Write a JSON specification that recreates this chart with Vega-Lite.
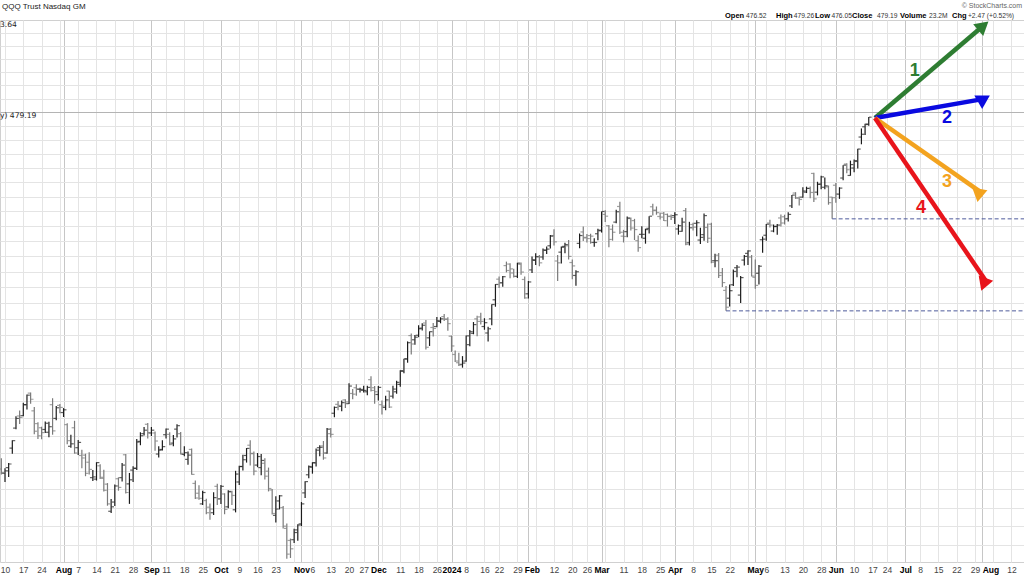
{
  "$schema": "https://vega.github.io/schema/vega-lite/v6.json",
  "width": 1024,
  "height": 542,
  "autosize": {"type": "none"},
  "padding": {"left": 0, "top": 20, "right": 0, "bottom": 14},
  "background": "white",
  "config": {"view": {"stroke": "#d0d0d0"}, "font": "Liberation Sans"},
  "datasets": {
    "bars": [
      {"d":"2023-07-07","i":-1,"o":366.6,"h":369.6,"l":365.1,"c":365.6},
      {"d":"2023-07-10","i":0,"o":365.4,"h":366.8,"l":363.0,"c":366.1},
      {"d":"2023-07-11","i":1,"o":367.0,"h":368.3,"l":364.4,"c":368.0},
      {"d":"2023-07-12","i":2,"o":372.5,"h":374.7,"l":370.9,"c":374.6},
      {"d":"2023-07-13","i":3,"o":378.2,"h":381.6,"l":377.9,"c":381.0},
      {"d":"2023-07-14","i":4,"o":381.7,"h":383.3,"l":379.4,"c":381.3},
      {"d":"2023-07-17","i":5,"o":381.8,"h":385.6,"l":381.6,"c":385.0},
      {"d":"2023-07-18","i":6,"o":385.0,"h":388.0,"l":383.6,"c":387.8},
      {"d":"2023-07-19","i":7,"o":388.4,"h":388.6,"l":385.3,"c":386.6},
      {"d":"2023-07-20","i":8,"o":383.2,"h":384.3,"l":376.4,"c":377.3},
      {"d":"2023-07-21","i":9,"o":379.5,"h":379.9,"l":375.1,"c":376.0},
      {"d":"2023-07-24","i":10,"o":378.3,"h":378.6,"l":375.0,"c":376.9},
      {"d":"2023-07-25","i":11,"o":377.8,"h":380.1,"l":376.8,"c":379.6},
      {"d":"2023-07-26","i":12,"o":377.0,"h":380.0,"l":375.6,"c":378.6},
      {"d":"2023-07-27","i":13,"o":385.0,"h":386.9,"l":376.3,"c":377.4},
      {"d":"2023-07-28","i":14,"o":381.0,"h":384.6,"l":380.5,"c":384.1},
      {"d":"2023-07-31","i":15,"o":384.8,"h":385.2,"l":382.5,"c":384.2},
      {"d":"2023-08-01","i":16,"o":382.7,"h":384.0,"l":381.4,"c":383.5},
      {"d":"2023-08-02","i":17,"o":379.2,"h":379.6,"l":373.6,"c":374.6},
      {"d":"2023-08-03","i":18,"o":373.0,"h":376.3,"l":372.6,"c":373.7},
      {"d":"2023-08-04","i":19,"o":378.3,"h":380.3,"l":370.9,"c":371.1},
      {"d":"2023-08-07","i":20,"o":372.6,"h":374.8,"l":370.5,"c":374.1},
      {"d":"2023-08-08","i":21,"o":370.4,"h":372.0,"l":366.8,"c":369.7},
      {"d":"2023-08-09","i":22,"o":370.5,"h":370.9,"l":364.6,"c":365.4},
      {"d":"2023-08-10","i":23,"o":368.5,"h":371.3,"l":365.1,"c":366.5},
      {"d":"2023-08-11","i":24,"o":364.2,"h":366.3,"l":363.3,"c":364.4},
      {"d":"2023-08-14","i":25,"o":363.8,"h":368.5,"l":363.4,"c":368.4},
      {"d":"2023-08-15","i":26,"o":367.5,"h":367.9,"l":363.8,"c":364.3},
      {"d":"2023-08-16","i":27,"o":364.0,"h":366.4,"l":360.4,"c":360.7},
      {"d":"2023-08-17","i":28,"o":362.4,"h":362.7,"l":356.5,"c":357.0},
      {"d":"2023-08-18","i":29,"o":355.0,"h":358.3,"l":354.5,"c":356.2},
      {"d":"2023-08-21","i":30,"o":357.5,"h":362.3,"l":356.4,"c":361.9},
      {"d":"2023-08-22","i":31,"o":363.9,"h":364.3,"l":360.6,"c":361.5},
      {"d":"2023-08-23","i":32,"o":364.2,"h":368.3,"l":363.1,"c":367.7},
      {"d":"2023-08-24","i":33,"o":370.6,"h":370.8,"l":359.8,"c":360.1},
      {"d":"2023-08-25","i":34,"o":362.5,"h":365.5,"l":357.0,"c":363.6},
      {"d":"2023-08-28","i":35,"o":366.3,"h":367.4,"l":363.0,"c":366.8},
      {"d":"2023-08-29","i":36,"o":366.8,"h":375.1,"l":366.3,"c":374.2},
      {"d":"2023-08-30","i":37,"o":374.4,"h":377.0,"l":373.3,"c":376.0},
      {"d":"2023-08-31","i":38,"o":376.6,"h":378.5,"l":376.1,"c":377.6},
      {"d":"2023-09-01","i":39,"o":379.3,"h":379.7,"l":375.2,"c":376.9},
      {"d":"2023-09-05","i":40,"o":376.8,"h":378.5,"l":375.9,"c":377.6},
      {"d":"2023-09-06","i":41,"o":376.8,"h":377.2,"l":371.7,"c":374.5},
      {"d":"2023-09-07","i":42,"o":370.8,"h":373.0,"l":369.8,"c":371.9},
      {"d":"2023-09-08","i":43,"o":372.1,"h":374.7,"l":371.8,"c":372.9},
      {"d":"2023-09-11","i":44,"o":376.3,"h":378.1,"l":375.2,"c":377.9},
      {"d":"2023-09-12","i":45,"o":376.4,"h":377.0,"l":373.3,"c":373.5},
      {"d":"2023-09-13","i":46,"o":373.9,"h":376.2,"l":373.0,"c":375.1},
      {"d":"2023-09-14","i":47,"o":377.9,"h":379.3,"l":375.5,"c":378.9},
      {"d":"2023-09-15","i":48,"o":376.6,"h":377.1,"l":370.7,"c":371.0},
      {"d":"2023-09-18","i":49,"o":370.7,"h":373.0,"l":370.2,"c":371.2},
      {"d":"2023-09-19","i":50,"o":369.3,"h":371.5,"l":367.8,"c":370.5},
      {"d":"2023-09-20","i":51,"o":372.1,"h":372.4,"l":365.0,"c":365.1},
      {"d":"2023-09-21","i":52,"o":362.6,"h":363.4,"l":358.3,"c":358.6},
      {"d":"2023-09-22","i":53,"o":359.9,"h":362.1,"l":358.1,"c":358.5},
      {"d":"2023-09-25","i":54,"o":357.0,"h":360.6,"l":356.7,"c":360.1},
      {"d":"2023-09-26","i":55,"o":357.9,"h":358.4,"l":354.2,"c":354.6},
      {"d":"2023-09-27","i":56,"o":356.1,"h":357.1,"l":352.7,"c":355.6},
      {"d":"2023-09-28","i":57,"o":354.6,"h":360.2,"l":354.0,"c":358.7},
      {"d":"2023-09-29","i":58,"o":361.8,"h":362.5,"l":356.7,"c":358.3},
      {"d":"2023-10-02","i":59,"o":358.4,"h":362.2,"l":357.0,"c":361.8},
      {"d":"2023-10-03","i":60,"o":359.7,"h":359.9,"l":354.2,"c":355.5},
      {"d":"2023-10-04","i":61,"o":356.2,"h":360.7,"l":355.8,"c":360.4},
      {"d":"2023-10-05","i":62,"o":360.2,"h":360.6,"l":356.7,"c":359.3},
      {"d":"2023-10-06","i":63,"o":355.4,"h":366.1,"l":354.7,"c":365.2},
      {"d":"2023-10-09","i":64,"o":363.0,"h":367.5,"l":362.2,"c":367.3},
      {"d":"2023-10-10","i":65,"o":367.3,"h":370.6,"l":366.2,"c":369.2},
      {"d":"2023-10-11","i":66,"o":370.4,"h":372.5,"l":368.4,"c":372.4},
      {"d":"2023-10-12","i":67,"o":373.3,"h":374.7,"l":367.6,"c":371.0},
      {"d":"2023-10-13","i":68,"o":370.9,"h":371.5,"l":364.9,"c":366.0},
      {"d":"2023-10-16","i":69,"o":367.7,"h":371.1,"l":367.1,"c":370.1},
      {"d":"2023-10-17","i":70,"o":367.0,"h":370.8,"l":364.9,"c":369.0},
      {"d":"2023-10-18","i":71,"o":368.2,"h":369.6,"l":363.7,"c":364.6},
      {"d":"2023-10-19","i":72,"o":366.0,"h":367.0,"l":360.4,"c":361.2},
      {"d":"2023-10-20","i":73,"o":360.8,"h":361.1,"l":354.1,"c":354.4},
      {"d":"2023-10-23","i":74,"o":353.9,"h":359.1,"l":352.0,"c":355.6},
      {"d":"2023-10-24","i":75,"o":357.8,"h":359.4,"l":355.5,"c":359.2},
      {"d":"2023-10-25","i":76,"o":356.0,"h":356.4,"l":350.4,"c":351.0},
      {"d":"2023-10-26","i":77,"o":350.4,"h":351.7,"l":342.4,"c":343.6},
      {"d":"2023-10-27","i":78,"o":347.2,"h":347.7,"l":342.6,"c":345.0},
      {"d":"2023-10-30","i":79,"o":347.4,"h":350.3,"l":346.5,"c":349.3},
      {"d":"2023-10-31","i":80,"o":350.0,"h":351.5,"l":347.1,"c":351.3},
      {"d":"2023-11-01","i":81,"o":351.6,"h":357.5,"l":351.0,"c":357.0},
      {"d":"2023-11-02","i":82,"o":360.0,"h":363.2,"l":358.6,"c":363.1},
      {"d":"2023-11-03","i":83,"o":365.0,"h":367.6,"l":364.0,"c":367.3},
      {"d":"2023-11-06","i":84,"o":367.1,"h":368.5,"l":365.3,"c":368.4},
      {"d":"2023-11-07","i":85,"o":368.3,"h":372.4,"l":367.3,"c":371.9},
      {"d":"2023-11-08","i":86,"o":372.6,"h":373.3,"l":370.2,"c":372.7},
      {"d":"2023-11-09","i":87,"o":373.1,"h":374.5,"l":369.2,"c":369.7},
      {"d":"2023-11-10","i":88,"o":371.1,"h":378.2,"l":370.9,"c":377.9},
      {"d":"2023-11-13","i":89,"o":376.6,"h":378.2,"l":375.5,"c":376.4},
      {"d":"2023-11-14","i":90,"o":382.5,"h":384.5,"l":381.3,"c":384.2},
      {"d":"2023-11-15","i":91,"o":385.1,"h":386.1,"l":383.4,"c":384.8},
      {"d":"2023-11-16","i":92,"o":384.5,"h":386.2,"l":383.1,"c":385.6},
      {"d":"2023-11-17","i":93,"o":386.4,"h":386.6,"l":384.0,"c":385.8},
      {"d":"2023-11-20","i":94,"o":385.3,"h":391.3,"l":385.2,"c":390.5},
      {"d":"2023-11-21","i":95,"o":388.3,"h":389.6,"l":386.6,"c":388.1},
      {"d":"2023-11-22","i":96,"o":390.0,"h":391.0,"l":387.6,"c":389.7},
      {"d":"2023-11-24","i":97,"o":389.5,"h":390.0,"l":388.6,"c":389.5},
      {"d":"2023-11-27","i":98,"o":389.2,"h":390.6,"l":388.6,"c":389.2},
      {"d":"2023-11-28","i":99,"o":388.8,"h":390.6,"l":387.8,"c":390.1},
      {"d":"2023-11-29","i":100,"o":392.4,"h":393.4,"l":388.9,"c":389.2},
      {"d":"2023-11-30","i":101,"o":390.0,"h":390.5,"l":385.3,"c":388.8},
      {"d":"2023-12-01","i":102,"o":388.0,"h":390.5,"l":386.2,"c":390.1},
      {"d":"2023-12-04","i":103,"o":385.0,"h":386.2,"l":382.1,"c":384.6},
      {"d":"2023-12-05","i":104,"o":384.2,"h":387.6,"l":383.4,"c":386.4},
      {"d":"2023-12-06","i":105,"o":389.0,"h":389.1,"l":384.0,"c":384.3},
      {"d":"2023-12-07","i":106,"o":387.5,"h":390.6,"l":386.8,"c":389.6},
      {"d":"2023-12-08","i":107,"o":388.8,"h":392.1,"l":388.2,"c":391.6},
      {"d":"2023-12-11","i":108,"o":391.0,"h":395.2,"l":390.3,"c":395.1},
      {"d":"2023-12-12","i":109,"o":394.9,"h":398.7,"l":394.3,"c":398.7},
      {"d":"2023-12-13","i":110,"o":398.6,"h":404.0,"l":397.5,"c":403.6},
      {"d":"2023-12-14","i":111,"o":405.8,"h":406.4,"l":400.0,"c":403.2},
      {"d":"2023-12-15","i":112,"o":404.5,"h":406.0,"l":403.0,"c":405.3},
      {"d":"2023-12-18","i":113,"o":405.9,"h":409.0,"l":405.3,"c":407.9},
      {"d":"2023-12-19","i":114,"o":408.1,"h":409.6,"l":407.4,"c":409.0},
      {"d":"2023-12-20","i":115,"o":409.7,"h":410.6,"l":401.5,"c":402.2},
      {"d":"2023-12-21","i":116,"o":405.1,"h":407.1,"l":402.6,"c":407.0},
      {"d":"2023-12-22","i":117,"o":408.3,"h":409.7,"l":405.5,"c":408.0},
      {"d":"2023-12-26","i":118,"o":408.6,"h":411.6,"l":408.4,"c":410.4},
      {"d":"2023-12-27","i":119,"o":410.2,"h":411.5,"l":409.6,"c":411.0},
      {"d":"2023-12-28","i":120,"o":411.7,"h":412.5,"l":410.3,"c":410.9},
      {"d":"2023-12-29","i":121,"o":410.9,"h":411.5,"l":407.3,"c":409.5},
      {"d":"2024-01-02","i":122,"o":405.6,"h":405.8,"l":400.8,"c":402.6},
      {"d":"2024-01-03","i":123,"o":400.0,"h":401.2,"l":397.7,"c":398.0},
      {"d":"2024-01-04","i":124,"o":397.5,"h":400.5,"l":396.5,"c":396.8},
      {"d":"2024-01-05","i":125,"o":397.0,"h":399.5,"l":396.0,"c":397.4},
      {"d":"2024-01-08","i":126,"o":398.0,"h":405.8,"l":397.8,"c":405.7},
      {"d":"2024-01-09","i":127,"o":403.0,"h":407.5,"l":402.5,"c":407.0},
      {"d":"2024-01-10","i":128,"o":406.5,"h":410.0,"l":406.2,"c":409.2},
      {"d":"2024-01-11","i":129,"o":411.0,"h":412.0,"l":405.6,"c":410.2},
      {"d":"2024-01-12","i":130,"o":411.6,"h":412.9,"l":409.2,"c":410.2},
      {"d":"2024-01-16","i":131,"o":408.6,"h":411.2,"l":407.6,"c":409.8},
      {"d":"2024-01-17","i":132,"o":406.6,"h":408.5,"l":404.0,"c":407.9},
      {"d":"2024-01-18","i":133,"o":411.0,"h":415.6,"l":409.0,"c":415.5},
      {"d":"2024-01-19","i":134,"o":417.0,"h":422.0,"l":414.8,"c":421.9},
      {"d":"2024-01-22","i":135,"o":423.6,"h":424.5,"l":420.8,"c":422.3},
      {"d":"2024-01-23","i":136,"o":422.5,"h":424.6,"l":421.2,"c":424.4},
      {"d":"2024-01-24","i":137,"o":428.0,"h":429.3,"l":425.8,"c":426.4},
      {"d":"2024-01-25","i":138,"o":428.5,"h":428.8,"l":423.9,"c":426.9},
      {"d":"2024-01-26","i":139,"o":425.6,"h":427.0,"l":424.1,"c":424.5},
      {"d":"2024-01-29","i":140,"o":424.5,"h":428.9,"l":424.0,"c":428.8},
      {"d":"2024-01-30","i":141,"o":428.4,"h":429.0,"l":425.0,"c":425.9},
      {"d":"2024-01-31","i":142,"o":423.5,"h":424.5,"l":417.3,"c":417.6},
      {"d":"2024-02-01","i":143,"o":418.9,"h":423.0,"l":417.4,"c":422.7},
      {"d":"2024-02-02","i":144,"o":426.6,"h":431.0,"l":425.6,"c":429.9},
      {"d":"2024-02-05","i":145,"o":429.7,"h":432.0,"l":428.2,"c":430.9},
      {"d":"2024-02-06","i":146,"o":430.9,"h":431.5,"l":427.8,"c":428.9},
      {"d":"2024-02-07","i":147,"o":430.8,"h":433.6,"l":429.9,"c":433.1},
      {"d":"2024-02-08","i":148,"o":433.0,"h":434.3,"l":431.8,"c":433.4},
      {"d":"2024-02-09","i":149,"o":434.5,"h":438.1,"l":433.6,"c":437.7},
      {"d":"2024-02-12","i":150,"o":437.9,"h":440.0,"l":434.6,"c":435.8},
      {"d":"2024-02-13","i":151,"o":429.5,"h":431.5,"l":423.0,"c":428.9},
      {"d":"2024-02-14","i":152,"o":432.4,"h":434.3,"l":428.7,"c":434.0},
      {"d":"2024-02-15","i":153,"o":434.3,"h":435.5,"l":432.0,"c":434.9},
      {"d":"2024-02-16","i":154,"o":434.5,"h":436.4,"l":430.0,"c":431.0},
      {"d":"2024-02-20","i":155,"o":429.0,"h":430.0,"l":423.6,"c":427.9},
      {"d":"2024-02-21","i":156,"o":424.8,"h":426.5,"l":421.5,"c":426.0},
      {"d":"2024-02-22","i":157,"o":435.3,"h":438.6,"l":433.7,"c":437.9},
      {"d":"2024-02-23","i":158,"o":439.1,"h":440.9,"l":436.1,"c":437.1},
      {"d":"2024-02-26","i":159,"o":437.3,"h":438.4,"l":435.6,"c":436.9},
      {"d":"2024-02-27","i":160,"o":437.9,"h":438.5,"l":435.2,"c":437.7},
      {"d":"2024-02-28","i":161,"o":435.6,"h":437.0,"l":434.2,"c":435.6},
      {"d":"2024-02-29","i":162,"o":438.5,"h":440.2,"l":436.3,"c":439.7},
      {"d":"2024-03-01","i":163,"o":439.5,"h":446.0,"l":438.9,"c":446.0},
      {"d":"2024-03-04","i":164,"o":445.0,"h":446.4,"l":442.4,"c":444.4},
      {"d":"2024-03-05","i":165,"o":441.2,"h":441.4,"l":434.0,"c":436.6},
      {"d":"2024-03-06","i":166,"o":440.0,"h":441.6,"l":436.2,"c":439.0},
      {"d":"2024-03-07","i":167,"o":442.4,"h":446.6,"l":442.0,"c":445.9},
      {"d":"2024-03-08","i":168,"o":447.7,"h":449.3,"l":438.4,"c":439.0},
      {"d":"2024-03-11","i":169,"o":437.7,"h":439.8,"l":435.6,"c":437.6},
      {"d":"2024-03-12","i":170,"o":439.2,"h":444.3,"l":437.3,"c":443.8},
      {"d":"2024-03-13","i":171,"o":443.6,"h":444.0,"l":439.6,"c":440.4},
      {"d":"2024-03-14","i":172,"o":442.9,"h":443.5,"l":436.4,"c":439.9},
      {"d":"2024-03-15","i":173,"o":436.2,"h":437.9,"l":432.5,"c":433.9},
      {"d":"2024-03-18","i":174,"o":438.3,"h":441.0,"l":437.0,"c":438.3},
      {"d":"2024-03-19","i":175,"o":437.0,"h":440.2,"l":435.2,"c":439.9},
      {"d":"2024-03-20","i":176,"o":440.3,"h":444.4,"l":438.6,"c":444.4},
      {"d":"2024-03-21","i":177,"o":447.6,"h":448.6,"l":444.6,"c":446.4},
      {"d":"2024-03-22","i":178,"o":446.4,"h":447.7,"l":444.9,"c":445.6},
      {"d":"2024-03-25","i":179,"o":444.3,"h":445.6,"l":443.3,"c":444.1},
      {"d":"2024-03-26","i":180,"o":445.4,"h":445.8,"l":442.8,"c":442.9},
      {"d":"2024-03-27","i":181,"o":445.0,"h":445.3,"l":440.9,"c":444.3},
      {"d":"2024-03-28","i":182,"o":444.4,"h":445.0,"l":443.1,"c":444.0},
      {"d":"2024-04-01","i":183,"o":444.6,"h":445.7,"l":441.8,"c":444.9},
      {"d":"2024-04-02","i":184,"o":440.1,"h":441.6,"l":438.2,"c":441.2},
      {"d":"2024-04-03","i":185,"o":439.3,"h":443.9,"l":439.2,"c":442.4},
      {"d":"2024-04-04","i":186,"o":446.3,"h":447.2,"l":434.7,"c":435.0},
      {"d":"2024-04-05","i":187,"o":435.5,"h":442.5,"l":434.6,"c":440.5},
      {"d":"2024-04-08","i":188,"o":441.6,"h":442.2,"l":439.6,"c":440.7},
      {"d":"2024-04-09","i":189,"o":442.0,"h":443.0,"l":437.7,"c":442.2},
      {"d":"2024-04-10","i":190,"o":436.4,"h":440.5,"l":435.1,"c":437.3},
      {"d":"2024-04-11","i":191,"o":438.2,"h":445.3,"l":436.2,"c":444.6},
      {"d":"2024-04-12","i":192,"o":440.6,"h":441.9,"l":435.4,"c":437.0},
      {"d":"2024-04-15","i":193,"o":441.7,"h":442.2,"l":428.8,"c":429.1},
      {"d":"2024-04-16","i":194,"o":429.6,"h":431.9,"l":427.5,"c":429.6},
      {"d":"2024-04-17","i":195,"o":431.4,"h":432.1,"l":424.0,"c":424.8},
      {"d":"2024-04-18","i":196,"o":425.7,"h":427.2,"l":421.1,"c":422.5},
      {"d":"2024-04-19","i":197,"o":420.0,"h":421.4,"l":413.5,"c":414.65},
      {"d":"2024-04-22","i":198,"o":417.5,"h":421.9,"l":414.9,"c":419.9},
      {"d":"2024-04-23","i":199,"o":421.8,"h":426.7,"l":421.4,"c":426.1},
      {"d":"2024-04-24","i":200,"o":427.3,"h":428.2,"l":424.2,"c":427.5},
      {"d":"2024-04-25","i":201,"o":418.5,"h":424.6,"l":416.0,"c":424.1},
      {"d":"2024-04-26","i":202,"o":429.8,"h":431.5,"l":428.0,"c":431.0},
      {"d":"2024-04-29","i":203,"o":432.0,"h":433.0,"l":428.2,"c":432.8},
      {"d":"2024-04-30","i":204,"o":430.8,"h":431.5,"l":424.5,"c":424.6},
      {"d":"2024-05-01","i":205,"o":424.2,"h":430.0,"l":420.5,"c":421.6},
      {"d":"2024-05-02","i":206,"o":425.5,"h":428.2,"l":421.9,"c":427.8},
      {"d":"2024-05-03","i":207,"o":436.5,"h":437.6,"l":432.2,"c":436.7},
      {"d":"2024-05-06","i":208,"o":438.0,"h":441.8,"l":436.2,"c":441.7},
      {"d":"2024-05-07","i":209,"o":442.1,"h":443.2,"l":440.6,"c":441.4},
      {"d":"2024-05-08","i":210,"o":439.4,"h":441.6,"l":439.0,"c":440.9},
      {"d":"2024-05-09","i":211,"o":441.0,"h":441.8,"l":438.2,"c":441.4},
      {"d":"2024-05-10","i":212,"o":443.8,"h":445.0,"l":440.9,"c":442.1},
      {"d":"2024-05-13","i":213,"o":444.2,"h":444.9,"l":441.6,"c":443.4},
      {"d":"2024-05-14","i":214,"o":443.6,"h":445.7,"l":442.6,"c":445.0},
      {"d":"2024-05-15","i":215,"o":447.9,"h":451.6,"l":447.2,"c":451.6},
      {"d":"2024-05-16","i":216,"o":452.3,"h":452.6,"l":450.3,"c":450.6},
      {"d":"2024-05-17","i":217,"o":450.6,"h":451.1,"l":448.0,"c":450.1},
      {"d":"2024-05-20","i":218,"o":450.9,"h":454.3,"l":450.7,"c":453.0},
      {"d":"2024-05-21","i":219,"o":452.6,"h":454.5,"l":452.3,"c":453.9},
      {"d":"2024-05-22","i":220,"o":453.9,"h":454.6,"l":450.5,"c":452.5},
      {"d":"2024-05-23","i":221,"o":459.1,"h":459.3,"l":449.2,"c":450.3},
      {"d":"2024-05-24","i":222,"o":452.6,"h":456.2,"l":451.5,"c":455.3},
      {"d":"2024-05-28","i":223,"o":455.4,"h":458.3,"l":453.6,"c":457.9},
      {"d":"2024-05-29","i":224,"o":454.3,"h":457.7,"l":453.6,"c":454.8},
      {"d":"2024-05-30","i":225,"o":454.4,"h":454.9,"l":448.3,"c":449.0},
      {"d":"2024-05-31","i":226,"o":450.9,"h":451.0,"l":443.5,"c":450.7},
      {"d":"2024-06-03","i":227,"o":455.0,"h":455.8,"l":449.0,"c":452.0},
      {"d":"2024-06-04","i":228,"o":451.9,"h":454.3,"l":450.3,"c":454.0},
      {"d":"2024-06-05","i":229,"o":457.5,"h":462.0,"l":456.7,"c":462.0},
      {"d":"2024-06-06","i":230,"o":462.4,"h":462.7,"l":459.2,"c":460.4},
      {"d":"2024-06-07","i":231,"o":458.4,"h":463.6,"l":458.3,"c":462.2},
      {"d":"2024-06-10","i":232,"o":461.0,"h":464.0,"l":459.5,"c":463.6},
      {"d":"2024-06-11","i":233,"o":463.3,"h":467.8,"l":460.8,"c":467.7},
      {"d":"2024-06-12","i":234,"o":472.0,"h":475.1,"l":469.4,"c":473.0},
      {"d":"2024-06-13","i":235,"o":475.7,"h":476.8,"l":472.7,"c":476.7},
      {"d":"2024-06-14","i":236,"o":476.52,"h":479.26,"l":476.05,"c":479.19}
    ],
    "levels": [
      {"xs": 197, "xe": 280, "p": 413.5},
      {"xs": 226, "xe": 280, "p": 443.5}
    ],
    "arrows": [
      {"n": "1", "xs": 237.7, "ps": 478.9, "xe": 267.3, "pe": 513.7},
      {"n": "2", "xs": 237.7, "ps": 478.9, "xe": 267.5, "pe": 485.9},
      {"n": "3", "xs": 237.7, "ps": 478.9, "xe": 266.7, "pe": 452.5},
      {"n": "4", "xs": 237.7, "ps": 478.9, "xe": 268.2, "pe": 422.7}
    ],
    "labels": [
      {"n": "1", "x": 248.6, "p": 496.3},
      {"n": "2", "x": 257.4, "p": 478.9},
      {"n": "3", "x": 257.4, "p": 456.1},
      {"n": "4", "x": 250.3, "p": 447.2}
    ],
    "notes": [
      {"k": "t", "t": "QQQ Trust Nasdaq GM", "x": -0.82, "p": 521.3},
      {"k": "s", "t": "© StockCharts.com", "x": 277.9, "p": 521.7},
      {"k": "l", "t": "3.64", "x": -1.366, "p": 514.0},
      {"k": "l", "t": "y) 479.19", "x": -1.366, "p": 479.8},
      {"k": "b", "t": "Open", "x": 196.72, "p": 517.75},
      {"k": "n", "t": "476.52", "x": 202.46, "p": 517.75},
      {"k": "b", "t": "High", "x": 210.66, "p": 517.75},
      {"k": "n", "t": "479.26", "x": 215.5, "p": 517.75},
      {"k": "b", "t": "Low", "x": 221.31, "p": 517.75},
      {"k": "n", "t": "476.05", "x": 225.8, "p": 517.75},
      {"k": "b", "t": "Close", "x": 231.42, "p": 517.75},
      {"k": "n", "t": "479.19", "x": 238.25, "p": 517.75},
      {"k": "b", "t": "Volume", "x": 244.53, "p": 517.75},
      {"k": "n", "t": "23.2M", "x": 252.46, "p": 517.75},
      {"k": "b", "t": "Chg", "x": 258.75, "p": 517.75},
      {"k": "n", "t": "+2.47 (+0.52%)", "x": 263.11, "p": 517.75}
    ]
  },
  "layer": [
    {
      "data": {"name": "bars"},
      "mark": {"type": "rule", "strokeWidth": 1.2},
      "encoding": {
        "x": {
          "field": "i", "type": "quantitative", "title": null,
          "scale": {"domain": [-1.366, 278.42], "nice": false, "zero": false},
          "axis": {
            "orient": "bottom", "title": null, "grid": true, "ticks": false, "tickSize": 0, "domain": false, "tickCount": 500,
            "values": [0,5,10,15,16,20,25,30,35,40,44,49,54,59,64,69,74,79,81,84,89,94,98,102,103,108,113,118,122,126,131,135,140,143,145,150,155,159,163,164,169,174,179,183,188,193,198,203,205,208,213,218,223,227,232,237,241,246,250,255,260,265,267,270,275],
            "labelExpr": "['10','17','24','','Aug','7','14','21','28','Sep','11','18','25','Oct','9','16','23','','Nov','6','13','20','27','Dec','','11','18','26','2024','8','16','22','29','Feb','','12','20','26','Mar','','11','18','25','Apr','8','15','22','','May','6','13','20','28','Jun','10','17','24','Jul','8','15','22','29','Aug','','12'][indexof([0,5,10,15,16,20,25,30,35,40,44,49,54,59,64,69,74,79,81,84,89,94,98,102,103,108,113,118,122,126,131,135,140,143,145,150,155,159,163,164,169,174,179,183,188,193,198,203,205,208,213,218,223,227,232,237,241,246,250,255,260,265,267,270,275], datum.value)]",
            "labelOverlap": false, "labelBound": false, "labelFlush": false, "labelAngle": 0,
            "labelPadding": 3, "labelFontSize": 8.5, "labelFont": "Liberation Sans",
            "labelAlign": {"condition": {"test": "datum.value === 267 || datum.value === 143", "value": "left"}, "value": "center"},
            "labelOffset": {"condition": {"test": "datum.value === 143", "value": -4}, "value": 0},
            "labelColor": {"condition": {"test": "indexof([16,40,59,81,102,122,143,163,183,205,227,246,267], datum.value) >= 0", "value": "#000000"}, "value": "#444444"},
            "labelFontWeight": {"condition": {"test": "indexof([16,40,59,81,102,122,143,163,183,205,227,246,267], datum.value) >= 0", "value": "bold"}, "value": "normal"},
            "gridColor": {"condition": {"test": "indexof([16,40,59,81,102,122,143,163,183,205,227,246,267], datum.value) >= 0", "value": "#c6c6c6"}, "value": "#e4e4e4"}
          }
        },
        "y": {
          "field": "l", "type": "quantitative", "title": null,
          "scale": {"type": "log", "domain": [341.55, 515.98], "nice": false},
          "axis": {
            "orient": "right", "title": null, "labels": false, "ticks": false, "domain": false, "grid": true, "tickCount": 500,
            "values": [346,351,356,361,366,371,376,381,386,391,396,401,406,411,416,421,426,431,436,441,446,451,456,461,466,471,476,481,486,491,496,501,506,511],
            "gridColor": {"condition": {"test": "datum.value === 481", "value": "#b4b4b4"}, "value": "#e4e4e4"}
          }
        },
        "y2": {"field": "h"},
        "color": {"condition": {"test": "datum.c >= datum.o", "value": "#1c1c1c"}, "value": "#7a7a7a"}
      }
    },
    {
      "data": {"name": "bars"},
      "mark": {"type": "tick", "orient": "horizontal", "size": 2.6, "thickness": 1.2, "xOffset": -1.6},
      "encoding": {
        "x": {"field": "i", "type": "quantitative", "title": null},
        "y": {"field": "o", "type": "quantitative", "title": null},
        "color": {"condition": {"test": "datum.c >= datum.o", "value": "#1c1c1c"}, "value": "#7a7a7a"}
      }
    },
    {
      "data": {"name": "bars"},
      "mark": {"type": "tick", "orient": "horizontal", "size": 2.6, "thickness": 1.2, "xOffset": 1.6},
      "encoding": {
        "x": {"field": "i", "type": "quantitative", "title": null},
        "y": {"field": "c", "type": "quantitative", "title": null},
        "color": {"condition": {"test": "datum.c >= datum.o", "value": "#1c1c1c"}, "value": "#7a7a7a"}
      }
    },
    {
      "data": {"name": "levels"},
      "mark": {"type": "rule", "strokeWidth": 1, "strokeDash": [4, 2.5], "color": "#4f5b9c"},
      "encoding": {
        "x": {"field": "xs", "type": "quantitative", "title": null},
        "x2": {"field": "xe"},
        "y": {"field": "p", "type": "quantitative", "title": null}
      }
    },
    {
      "data": {"name": "arrows"},
      "mark": {"type": "rule", "strokeWidth": 4.5, "strokeCap": "butt"},
      "encoding": {
        "x": {"field": "xs", "type": "quantitative", "title": null},
        "y": {"field": "ps", "type": "quantitative", "title": null},
        "x2": {"field": "xe"},
        "y2": {"field": "pe"},
        "color": {"field": "n", "type": "nominal", "legend": null,
          "scale": {"domain": ["1", "2", "3", "4"], "range": ["#2e7d32", "#0a0ae0", "#f3a31f", "#e8141b"]}}
      }
    },
    {
      "data": {"name": "arrows"},
      "mark": {"type": "point", "shape": "triangle-up", "filled": true, "opacity": 1, "size": 240},
      "encoding": {
        "x": {"field": "xe", "type": "quantitative", "title": null},
        "y": {"field": "pe", "type": "quantitative", "title": null},
        "color": {"field": "n", "type": "nominal", "legend": null},
        "angle": {"field": "n", "type": "ordinal", "legend": null,
          "scale": {"domain": ["1", "2", "3", "4"], "range": [49.6, 80.1, 125.4, 145.8]}}
      }
    },
    {
      "data": {"name": "labels"},
      "mark": {"type": "text", "font": "Liberation Sans", "fontSize": 18, "fontWeight": "bold", "align": "center", "baseline": "middle"},
      "encoding": {
        "x": {"field": "x", "type": "quantitative", "title": null},
        "y": {"field": "p", "type": "quantitative", "title": null},
        "text": {"field": "n"},
        "color": {"field": "n", "type": "nominal", "legend": null}
      }
    },
    {
      "data": {"name": "notes"},
      "transform": [{"filter": "datum.k === 'b'"}],
      "mark": {"type": "text", "font": "Liberation Sans", "fontSize": 7.5, "fontWeight": "bold", "align": "left", "baseline": "middle", "color": "#000000"},
      "encoding": {
        "x": {"field": "x", "type": "quantitative", "title": null},
        "y": {"field": "p", "type": "quantitative", "title": null},
        "text": {"field": "t"}
      }
    },
    {
      "data": {"name": "notes"},
      "transform": [{"filter": "datum.k === 'n'"}],
      "mark": {"type": "text", "font": "Liberation Sans", "fontSize": 6.7, "align": "left", "baseline": "middle", "color": "#333333"},
      "encoding": {
        "x": {"field": "x", "type": "quantitative", "title": null},
        "y": {"field": "p", "type": "quantitative", "title": null},
        "text": {"field": "t"}
      }
    },
    {
      "data": {"name": "notes"},
      "transform": [{"filter": "datum.k === 't'"}],
      "mark": {"type": "text", "font": "Liberation Sans", "fontSize": 8, "align": "left", "baseline": "middle", "color": "#222222"},
      "encoding": {
        "x": {"field": "x", "type": "quantitative", "title": null},
        "y": {"field": "p", "type": "quantitative", "title": null},
        "text": {"field": "t"}
      }
    },
    {
      "data": {"name": "notes"},
      "transform": [{"filter": "datum.k === 's'"}],
      "mark": {"type": "text", "font": "Liberation Sans", "fontSize": 7, "align": "right", "baseline": "middle", "color": "#666666"},
      "encoding": {
        "x": {"field": "x", "type": "quantitative", "title": null},
        "y": {"field": "p", "type": "quantitative", "title": null},
        "text": {"field": "t"}
      }
    },
    {
      "data": {"name": "notes"},
      "transform": [{"filter": "datum.k === 'l'"}],
      "mark": {"type": "text", "font": "DejaVu Sans", "fontSize": 7.6, "align": "left", "baseline": "middle", "color": "#222222"},
      "encoding": {
        "x": {"field": "x", "type": "quantitative", "title": null},
        "y": {"field": "p", "type": "quantitative", "title": null},
        "text": {"field": "t"}
      }
    }
  ]
}
